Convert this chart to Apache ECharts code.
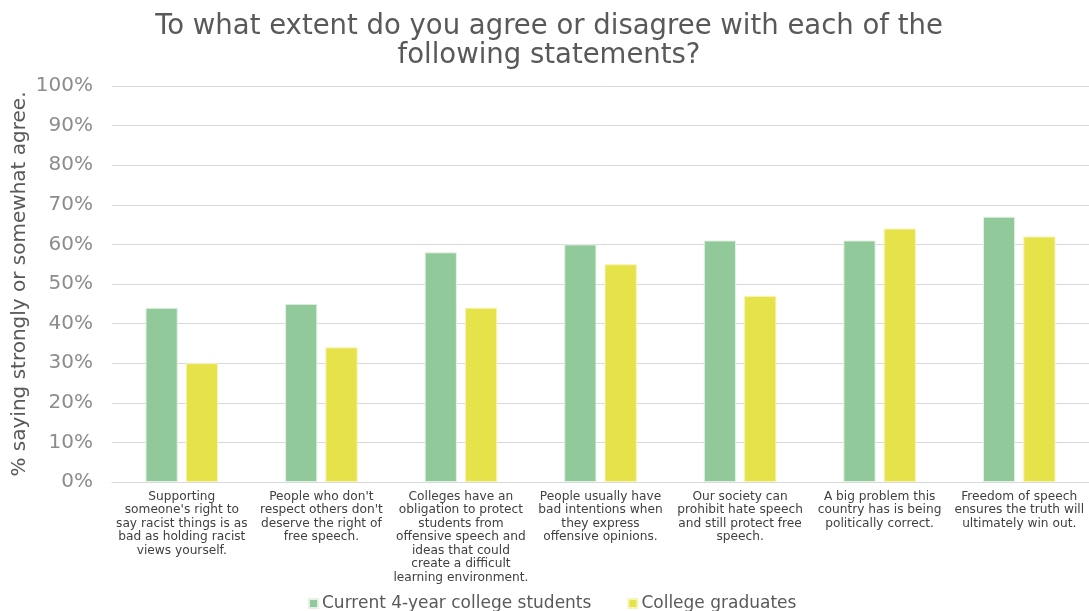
<!DOCTYPE html>
<html>
<head>
<meta charset="utf-8">
<script src="https://cdn.jsdelivr.net/npm/echarts@6/dist/echarts.min.js"></script>
<style>html,body{margin:0;padding:0;background:#fff;}#c{width:1089px;height:611px;}</style>
</head>
<body>
<div id="c"></div>
<script>
const titleText = "To what extent do you agree or disagree with each of the\nfollowing statements?";
const yAxisName = "% saying strongly or somewhat agree.";
const categories = [
  "Supporting\nsomeone's right to\nsay racist things is as\nbad as holding racist\nviews yourself.",
  "People who don't\nrespect others don't\ndeserve the right of\nfree speech.",
  "Colleges have an\nobligation to protect\nstudents from\noffensive speech and\nideas that could\ncreate a difficult\nlearning environment.",
  "People usually have\nbad intentions when\nthey express\noffensive opinions.",
  "Our society can\nprohibit hate speech\nand still protect free\nspeech.",
  "A big problem this\ncountry has is being\npolitically correct.",
  "Freedom of speech\nensures the truth will\nultimately win out."
];
const seriesNames = ["Current 4-year college students", "College graduates"];
const students = [44, 45, 58, 60, 61, 61, 67];
const graduates = [30, 34, 44, 55, 47, 64, 62];
const yTicks = [0, 10, 20, 30, 40, 50, 60, 70, 80, 90, 100];

const FONT = "DejaVu Sans";
const chart = echarts.init(document.getElementById('c'), null, {renderer: 'canvas'});
chart.setOption({
  backgroundColor: '#fff',
  animation: false,
  title: {
    text: titleText,
    left: 544, top: 7, textAlign: 'center',
    textStyle: {fontFamily: FONT, fontSize: 27.5, fontWeight: 'normal', color: '#595959', lineHeight: 29}
  },
  legend: {
    data: seriesNames,
    bottom: -6, left: 303,
    itemWidth: 9, itemHeight: 9, itemGap: 36,
    icon: 'rect',
    textStyle: {fontFamily: FONT, fontSize: 17, color: '#595959', padding: [0, 0, 0, -1]}
  },
  grid: {left: 112, right: 0, top: 86, bottom: 129, containLabel: false, outerBoundsMode: 'none'},
  xAxis: {
    type: 'category',
    data: categories,
    axisLine: {lineStyle: {color: '#d9d9d9', width: 1}},
    axisTick: {show: false},
    axisLabel: {interval: 0, fontFamily: FONT, fontSize: 12.2, lineHeight: 13.5, color: '#404040', margin: 8}
  },
  yAxis: {
    type: 'value', min: 0, max: 100, interval: 10,
    name: yAxisName, nameLocation: 'middle', nameGap: 82, nameRotate: 90, nameMoveOverlap: false,
    nameTextStyle: {fontFamily: FONT, fontSize: 20, color: '#595959'},
    axisLine: {show: false}, axisTick: {show: false},
    axisLabel: {
      fontFamily: FONT, fontSize: 20, color: '#8c8c8c', margin: 19,
      formatter: v => (yTicks.indexOf(v) >= 0 ? v + '%' : '')
    },
    splitLine: {lineStyle: {color: '#d9d9d9', width: 1}}
  },
  series: [
    {name: seriesNames[0], type: 'bar', data: students, barGap: '25%', barCategoryGap: '48%',
     itemStyle: {color: '#92c99a', borderColor: '#e4f2e6', borderWidth: 1}},
    {name: seriesNames[1], type: 'bar', data: graduates,
     itemStyle: {color: '#e6e24a', borderColor: '#f6f4b8', borderWidth: 1}}
  ]
});
</script>
</body>
</html>
